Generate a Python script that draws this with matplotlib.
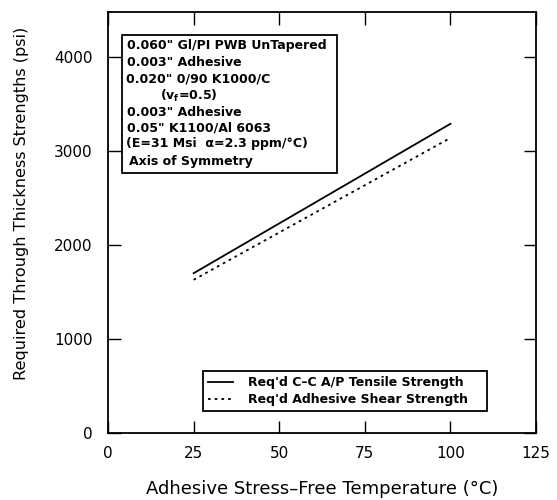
import matplotlib
matplotlib.use("Agg")
import matplotlib.pyplot as plt
from matplotlib.patches import Rectangle

temps = [25, 100]
tensile = [1700, 3290]
shear = [1630, 3140]
series_labels = ["Req'd C\u2013C A/P Tensile Strength", "Req'd Adhesive Shear Strength"]
x_ticks = [0, 25, 50, 75, 100, 125]
y_ticks = [0, 1000, 2000, 3000, 4000]
box_lines = [
    '0.060" Gl/PI PWB UnTapered',
    '0.003" Adhesive',
    '0.020" 0/90 K1000/C',
    r'(v$_\mathregular{f}$=0.5)',
    '0.003" Adhesive',
    '0.05" K1100/Al 6063',
    '(E=31 Msi  \u03b1=2.3 ppm/\u00b0C)',
    'Axis of Symmetry',
]

plt.rcParams['font.family'] = ['DejaVu Sans']
fig = plt.figure(figsize=(5.57, 5.0), dpi=100)
ax = fig.add_axes([108/557, 1-433/500, 428/557, 421/500])

ax.plot(temps, tensile, color='black', lw=1.3, linestyle='-', label=series_labels[0])
ax.plot(temps, shear, color='black', lw=1.3, linestyle=(0, (1.5, 2.2)), label=series_labels[1])

ax.set_xlim(0, 125)
ax.set_ylim(0, 4480)
ax.set_xticks(x_ticks)
ax.set_yticks(y_ticks)
ax.tick_params(direction='in', length=9, width=1, top=True, right=True, labelsize=11)
ax.tick_params(axis='x', pad=9.5)
ax.tick_params(axis='y', pad=11)
for s in ax.spines.values():
    s.set_linewidth(1.3)

def ax_x(px):
    return (px - 108) / 428
def ax_y(py):
    return (433 - py) / 421

ax.set_xlabel('Adhesive Stress\u2013Free Temperature (\u00b0C)', fontsize=13)
ax.xaxis.set_label_coords(0.5, ax_y(489), transform=ax.transAxes)
ax.xaxis.label.set_va('center')
ax.set_ylabel('Required Through Thickness Strengths (psi)', fontsize=11.6)
ax.yaxis.set_label_coords(ax_x(22), ax_y(203), transform=ax.transAxes)
ax.yaxis.label.set_va('center')

# text box
ax.add_patch(Rectangle((ax_x(122), ax_y(173)), ax_x(337) - ax_x(122), ax_y(35) - ax_y(173),
                       transform=ax.transAxes, fill=False, edgecolor='black', lw=1.3))
ys = [46, 63, 79, 96, 113, 128, 144, 161]
xs = [127, 127, 126, 160, 127, 127, 126, 129]
for t, px, py in zip(box_lines, xs, ys):
    ax.text(ax_x(px), ax_y(py), t, transform=ax.transAxes, fontsize=9, fontweight='bold',
            va='center', ha='left')

leg = ax.legend(loc='lower left', bbox_to_anchor=(ax_x(203), ax_y(411), ax_x(487) - ax_x(203), ax_y(366) - ax_y(411)),
                mode='expand', fancybox=False, edgecolor='black', framealpha=1,
                prop={'size': 9, 'weight': 'bold'}, handlelength=2.0, handletextpad=1.2,
                borderaxespad=0, borderpad=0.4, labelspacing=0.3)
leg.get_frame().set_linewidth(1.3)

fig.savefig('out.png', dpi=100)
